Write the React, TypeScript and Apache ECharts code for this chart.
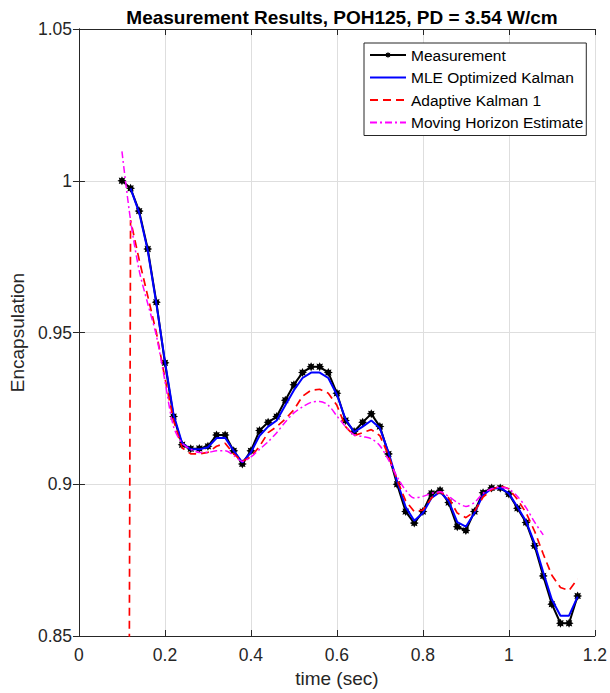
import React, { useEffect, useRef } from "react";
import * as echarts from "echarts";

const time = [
  0.10, 0.12, 0.14, 0.16, 0.18, 0.20, 0.22, 0.24, 0.26, 0.28,
  0.30, 0.32, 0.34, 0.36, 0.38, 0.40, 0.42, 0.44, 0.46, 0.48,
  0.50, 0.52, 0.54, 0.56, 0.58, 0.60, 0.62, 0.64, 0.66, 0.68,
  0.70, 0.72, 0.74, 0.76, 0.78, 0.80, 0.82, 0.84, 0.86, 0.88,
  0.90, 0.92, 0.94, 0.96, 0.98, 1.00, 1.02, 1.04, 1.06, 1.08,
  1.10, 1.12, 1.14, 1.16,
];

// Measurement (0.10 .. 1.16)
const measurement = [
  1.000, 0.9975, 0.990, 0.9775, 0.960, 0.940, 0.9223, 0.913, 0.9117, 0.9118,
  0.9125, 0.9162, 0.9162, 0.911, 0.9067, 0.911, 0.9177, 0.9204, 0.9223, 0.9277,
  0.9328, 0.9368, 0.9387, 0.9387, 0.9368, 0.930, 0.921, 0.9174, 0.9204, 0.9232,
  0.919, 0.910, 0.900, 0.891, 0.8872, 0.891, 0.897, 0.898, 0.894, 0.886,
  0.8848, 0.891, 0.8972, 0.8988, 0.8988, 0.8968, 0.8921, 0.8874, 0.8797, 0.8698,
  0.8605, 0.8542, 0.8542, 0.8632,
];

// MLE Optimized Kalman (0.12 .. 1.16)
const mleKalman = [
  0.9975, 0.9895, 0.977, 0.9595, 0.9405, 0.923, 0.9135, 0.9115, 0.9115,
  0.9122, 0.9152, 0.9153, 0.911, 0.9072, 0.9105, 0.916, 0.919, 0.921, 0.926,
  0.931, 0.935, 0.9368, 0.9368, 0.935, 0.9295, 0.9215, 0.9172, 0.919, 0.921,
  0.9185, 0.9105, 0.901, 0.8925, 0.888, 0.8905, 0.8955, 0.8975, 0.8945, 0.8875,
  0.886, 0.8905, 0.8965, 0.8985, 0.8988, 0.897, 0.8925, 0.8878, 0.8805, 0.871,
  0.862, 0.8567, 0.8567, 0.863,
];

// Adaptive Kalman 1 (0.10 .. 1.16)
const adaptiveKalman = [
  0.0, 0.987, 0.974, 0.962, 0.950, 0.935, 0.921, 0.912, 0.910, 0.910,
  0.9105, 0.9125, 0.9135, 0.910, 0.9075, 0.909, 0.9125, 0.917, 0.919, 0.9215,
  0.9245, 0.929, 0.931, 0.9313, 0.930, 0.926, 0.919, 0.916, 0.917, 0.918,
  0.916, 0.9095, 0.9015, 0.8945, 0.891, 0.8915, 0.8955, 0.8975, 0.8955, 0.8905,
  0.889, 0.891, 0.8958, 0.8982, 0.8995, 0.8985, 0.895, 0.8906, 0.8845, 0.877,
  0.870, 0.866, 0.865, 0.8688,
];

// Moving Horizon Estimate (0.10 .. 1.08)
const movingHorizon = [
  1.0097, 0.987, 0.9705, 0.9595, 0.949, 0.934, 0.919, 0.9135, 0.9115, 0.9105,
  0.9105, 0.911, 0.911, 0.9095, 0.9075, 0.909, 0.9115, 0.914, 0.917, 0.9205,
  0.9235, 0.9255, 0.927, 0.9273, 0.926, 0.9225, 0.919, 0.9163, 0.9157, 0.915,
  0.9127, 0.908, 0.9025, 0.898, 0.8955, 0.896, 0.897, 0.8975, 0.896, 0.894,
  0.8927, 0.894, 0.897, 0.8985, 0.899, 0.8984, 0.896, 0.8923, 0.8875, 0.8833,
];

const xTicks = [0, 1.2, 0.2];
const yTicks = [0.85, 1.05, 0.05];

const FONT = "'Liberation Sans', Arial, Helvetica, sans-serif";
const AXIS_COLOR = "#262626";

function pairs(values: number[], offset: number) {
  return values.map((v, i) => [time[i + offset], v]);
}

// asterisk-like star marker (8 spikes)
function starPath(): string {
  const pts: string[] = [];
  const n = 16;
  for (let k = 0; k < n; k++) {
    const r = k % 2 === 0 ? 10 : 6;
    const a = (Math.PI * 2 * k) / n - Math.PI / 2;
    pts.push(`${(r * Math.cos(a)).toFixed(2)},${(r * Math.sin(a)).toFixed(2)}`);
  }
  return "path://M" + pts.join(" L") + " Z";
}

export default function App() {
  const ref = useRef<HTMLDivElement>(null);

  useEffect(() => {
    if (!ref.current) return;
    const chart = echarts.init(ref.current, null, { renderer: "svg" });
    const fmt = (v: number) => String(Number(v.toFixed(2)));
    const star = starPath();
    const baseX = {
      type: "value" as const,
      min: xTicks[0],
      max: xTicks[1],
      interval: xTicks[2],
    };
    const baseY = {
      type: "value" as const,
      min: yTicks[0],
      max: yTicks[1],
      interval: yTicks[2],
    };
    chart.setOption({
      animation: false,
      backgroundColor: "#ffffff",
      textStyle: { fontFamily: FONT },
      title: {
        text: "Measurement Results, POH125, PD = 3.54 W/cm",
        left: 337,
        textAlign: "center",
        top: 3,
        textStyle: {
          fontFamily: FONT,
          fontSize: 19,
          fontWeight: "bold",
          color: "#000000",
        },
      },
      grid: { left: 77, right: 12, top: 29, bottom: 57, containLabel: false },
      legend: {
        orient: "vertical",
        left: 364,
        top: 43,
        itemWidth: 36,
        itemHeight: 8,
        itemGap: 6.5,
        padding: [4, 3, 5, 5],
        borderColor: AXIS_COLOR,
        borderWidth: 1,
        backgroundColor: "#ffffff",
        textStyle: { fontFamily: FONT, fontSize: 15.5, lineHeight: 14, color: "#000000" },
        data: [
          { name: "Measurement" },
          { name: "MLE Optimized Kalman", itemStyle: { opacity: 0 } },
          { name: "Adaptive Kalman 1", itemStyle: { opacity: 0 } },
          { name: "Moving Horizon Estimate", itemStyle: { opacity: 0 } },
        ],
      },
      xAxis: [
        {
          ...baseX,
          name: "time (sec)",
          nameLocation: "middle",
          nameGap: 32,
          nameTextStyle: { fontFamily: FONT, fontSize: 19, color: AXIS_COLOR },
          axisLine: { show: true, lineStyle: { color: AXIS_COLOR, width: 1 } },
          axisTick: { show: true, inside: true, length: 6, lineStyle: { color: AXIS_COLOR } },
          axisLabel: {
            margin: 10,
            fontFamily: FONT,
            fontSize: 17.5,
            color: AXIS_COLOR,
            formatter: fmt,
          },
          splitLine: { show: true, lineStyle: { color: "#dedede", width: 1 } },
        },
        {
          ...baseX,
          position: "top",
          axisLine: { show: true, lineStyle: { color: AXIS_COLOR, width: 1 } },
          axisTick: { show: true, inside: true, length: 6, lineStyle: { color: AXIS_COLOR } },
          axisLabel: { show: false },
          splitLine: { show: false },
        },
      ],
      yAxis: [
        {
          ...baseY,
          name: "Encapsulation",
          nameLocation: "middle",
          nameGap: 39,
          nameTextStyle: { fontFamily: FONT, fontSize: 19, color: AXIS_COLOR },
          axisLine: { show: true, lineStyle: { color: AXIS_COLOR, width: 1 } },
          axisTick: { show: true, inside: true, length: 6, lineStyle: { color: AXIS_COLOR } },
          axisLabel: {
            margin: 7,
            fontFamily: FONT,
            fontSize: 17.5,
            color: AXIS_COLOR,
            formatter: fmt,
          },
          splitLine: { show: true, lineStyle: { color: "#dedede", width: 1 } },
        },
        {
          ...baseY,
          position: "right",
          axisLine: { show: true, lineStyle: { color: AXIS_COLOR, width: 1 } },
          axisTick: { show: true, inside: true, length: 6, lineStyle: { color: AXIS_COLOR } },
          axisLabel: { show: false },
          splitLine: { show: false },
        },
      ],
      series: [
        {
          name: "Measurement",
          type: "line",
          xAxisIndex: 0,
          yAxisIndex: 0,
          data: pairs(measurement, 0),
          symbol: star,
          symbolSize: 9,
          showSymbol: true,
          itemStyle: { color: "#000000" },
          lineStyle: { color: "#000000", width: 2 },
          z: 2,
        },
        {
          name: "MLE Optimized Kalman",
          type: "line",
          data: pairs(mleKalman, 1),
          symbol: "none",
          itemStyle: { color: "#0000ff" },
          lineStyle: { color: "#0000ff", width: 2 },
          z: 3,
        },
        {
          name: "Adaptive Kalman 1",
          type: "line",
          data: pairs(adaptiveKalman, 0),
          symbol: "none",
          clip: true,
          itemStyle: { color: "#ff0000" },
          lineStyle: { color: "#ff0000", width: 1.7, type: [8, 5] },
          z: 4,
        },
        {
          name: "Moving Horizon Estimate",
          type: "line",
          data: pairs(movingHorizon, 0),
          symbol: "none",
          smooth: 0.3,
          itemStyle: { color: "#ff00ff" },
          lineStyle: { color: "#ff00ff", width: 1.5, type: [7, 3, 2, 3] },
          z: 5,
        },
      ],
    });
    return () => chart.dispose();
  }, []);

  return <div ref={ref} style={{ width: 610, height: 693, position: "absolute", left: 0, top: 0 }} />;
}
